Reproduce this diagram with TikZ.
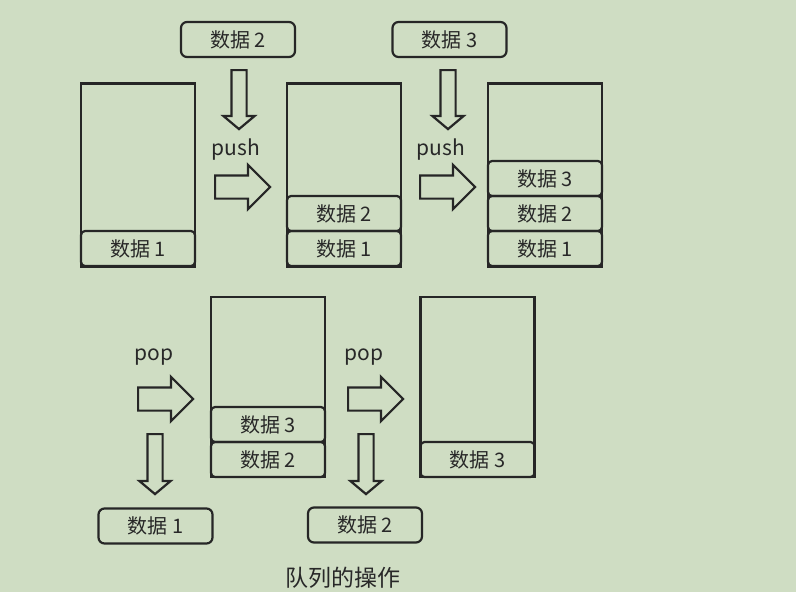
\documentclass[tikz,border=0pt]{standalone}
\usepackage{fontspec}
\setmainfont{Noto Sans CJK SC}
\usetikzlibrary{shapes.arrows}
\definecolor{bg}{RGB}{207,221,195}
\definecolor{ink}{RGB}{38,38,38}
\definecolor{txt}{RGB}{40,40,40}
\begin{document}
\begin{tikzpicture}[x=1pt,y=-1pt,
  stackbox/.style={draw=ink,line width=2.2pt,rectangle,minimum width=114pt,inner sep=0pt},
  slotbox/.style={draw=ink,line width=2.2pt,rounded corners=4pt,minimum width=114pt,minimum height=35pt,inner sep=0pt,text=txt,font=\fontsize{20}{22}\selectfont},
  databox/.style={draw=ink,line width=2.2pt,rounded corners=6pt,minimum width=114pt,minimum height=35pt,inner sep=0pt,text=txt,font=\fontsize{20}{22}\selectfont},
  oplabel/.style={text=txt,font=\fontsize{21}{23}\selectfont,inner sep=0pt},
  rarrow/.style={single arrow,draw=ink,line width=2.2pt,inner xsep=0pt,inner ysep=10.5pt,
    single arrow head extend=10.5pt,single arrow tip angle=90,minimum height=55pt,anchor=tail},
  darrow/.style={single arrow,draw=ink,line width=2.2pt,inner xsep=0pt,inner ysep=6.5pt,
    single arrow head extend=8pt,single arrow tip angle=100,minimum height=59pt,rotate=-90,anchor=tail}]
\fill[bg] (0,0) rectangle (796,592);
\useasboundingbox (0,0) rectangle (796,592);

% ---- push row ----
\node[stackbox,minimum height=183pt] (c1) at (138,175) {};
\node[slotbox] (s11) at (138,248.5) {数据 1};

\node[databox] (in2) at (238,39.5) {数据 2};
\node[darrow] (a1) at (239,69) {};
\node[oplabel] (p1) at (236,150) {push};
\node[rarrow] (r1) at (214,187) {};

\node[stackbox,minimum height=183pt] (c2) at (344,175) {};
\node[slotbox] (s22) at (344,213.5) {数据 2};
\node[slotbox] (s21) at (344,248.5) {数据 1};

\node[databox] (in3) at (449.5,39.5) {数据 3};
\node[darrow] (a2) at (448,69) {};
\node[oplabel] (p2) at (441,150) {push};
\node[rarrow] (r2) at (419,187) {};

\node[stackbox,minimum height=183pt] (c3) at (545,175) {};
\node[slotbox] (s33) at (545,178.5) {数据 3};
\node[slotbox] (s32) at (545,213.5) {数据 2};
\node[slotbox] (s31) at (545,248.5) {数据 1};

% ---- pop row ----
\node[oplabel] (q1) at (154,357) {pop};
\node[rarrow] (r3) at (137,399) {};
\node[darrow,minimum height=60pt] (a3) at (155,433) {};
\node[databox] (out1) at (155.5,526) {数据 1};

\node[stackbox,minimum height=180pt] (c4) at (268,387) {};
\node[slotbox] (s43) at (268,424.5) {数据 3};
\node[slotbox] (s42) at (268,459.5) {数据 2};

\node[oplabel] (q2) at (364,357) {pop};
\node[rarrow] (r4) at (347,399) {};
\node[darrow,minimum height=60pt] (a4) at (366,433) {};
\node[databox] (out2) at (365,525) {数据 2};

\node[stackbox,minimum height=180pt] (c5) at (477.5,387) {};
\node[slotbox] (s53) at (477.5,459.5) {数据 3};

\node[text=txt,font=\fontsize{23}{25}\selectfont,inner sep=0pt] (cap) at (343,578) {队列的操作};
\end{tikzpicture}
\end{document}
